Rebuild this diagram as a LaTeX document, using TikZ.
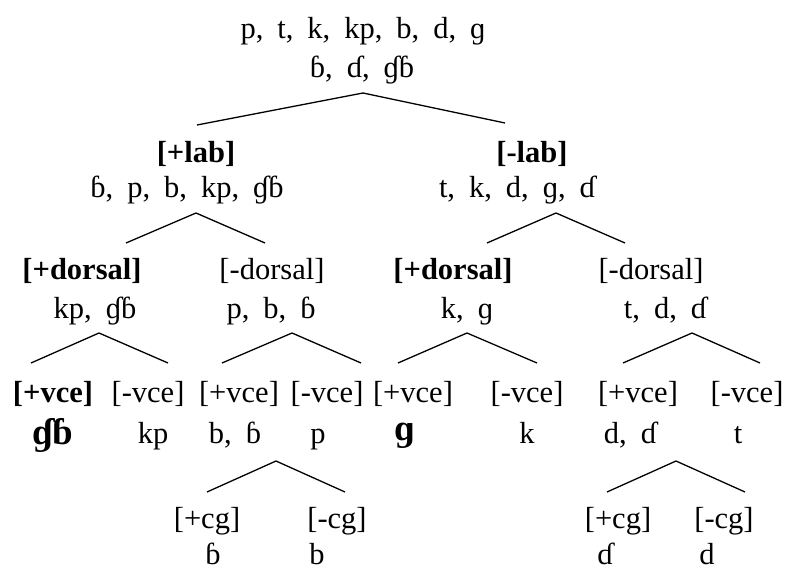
\documentclass[tikz,border=0pt]{standalone}
\usepackage{fontspec}
\setmainfont{Liberation Serif}
\usetikzlibrary{positioning}

\begin{document}
\begin{tikzpicture}[x=1pt, y=-1pt,
		every node/.style={anchor=base, inner sep=0pt, font=\fontsize{30.5}{36}\selectfont},
		feature/.style={},
		boldFeature/.style={font=\fontsize{30.5}{36}\selectfont\bfseries},
		segments/.style={execute at begin node={\spaceskip=14pt plus 2pt\relax}},
		boldSegments/.style={font=\fontsize{37}{42}\selectfont\bfseries},
		branch/.style={line width=1.3pt, line join=miter}
	]
	\useasboundingbox (0,0) rectangle (789,569);

	% Root
	\node[segments] (R0a) at (363,39) {p, t, k, kp, b, d, ɡ};
	\node[segments] (R0b) at (362,78) {ɓ, ɗ, ɠɓ};
	\coordinate (R0top) at (363,93);
	\coordinate (R0l) at (197,125);
	\coordinate (R0r) at (505,123);
	\draw[branch] (R0l) -- (R0top) -- (R0r);

	% Labial branch
	\node[boldFeature] (L1) at (196,163) {[+lab]};
	\node[segments] (L1s) at (187,198) {ɓ, p, b, kp, ɠɓ};
	\coordinate (L1top) at (196,213);
	\coordinate (L1l) at (126,243);
	\coordinate (L1r) at (265,243);
	\draw[branch] (L1l) -- (L1top) -- (L1r);

	\node[boldFeature] (LA) at (82,279) {[+dorsal]};
	\node[segments] (LAs) at (95,318) {kp, ɠɓ};
	\coordinate (LAtop) at (99,333);
	\coordinate (LAl) at (31,363);
	\coordinate (LAr) at (168,363);
	\draw[branch] (LAl) -- (LAtop) -- (LAr);

	\node[feature] (LB) at (272,279) {[-dorsal]};
	\node[segments] (LBs) at (271,318) {p, b, ɓ};
	\coordinate (LBtop) at (292,333);
	\coordinate (LBl) at (222,363);
	\coordinate (LBr) at (361,363);
	\draw[branch] (LBl) -- (LBtop) -- (LBr);

	\node[boldFeature] (LA1) at (53,402) {[+vce]};
	\node[boldSegments] (LA1s) at (53,444) {ɠɓ};
	\node[feature] (LA2) at (148,402) {[-vce]};
	\node[segments] (LA2s) at (153,443) {kp};
	\node[feature] (LB1) at (239,402) {[+vce]};
	\node[segments] (LB1s) at (235,443) {b, ɓ};
	\node[feature] (LB2) at (327,402) {[-vce]};
	\node[segments] (LB2s) at (318,443) {p};
	\coordinate (LB1top) at (276,461);
	\coordinate (LB1l) at (207,492);
	\coordinate (LB1r) at (345,492);
	\draw[branch] (LB1l) -- (LB1top) -- (LB1r);

	\node[feature] (LB1a) at (207,528) {[+cg]};
	\node[segments] (LB1as) at (213,564) {ɓ};
	\node[feature] (LB1b) at (337,528) {[-cg]};
	\node[segments] (LB1bs) at (317,564) {b};

	% Non-labial branch
	\node[boldFeature] (R1) at (532,163) {[-lab]};
	\node[segments] (R1s) at (517,198) {t, k, d, ɡ, ɗ};
	\coordinate (R1top) at (556,213);
	\coordinate (R1l) at (487,243);
	\coordinate (R1r) at (625,243);
	\draw[branch] (R1l) -- (R1top) -- (R1r);

	\node[boldFeature] (RA) at (453,279) {[+dorsal]};
	\node[segments] (RAs) at (467,318) {k, ɡ};
	\coordinate (RAtop) at (467,333);
	\coordinate (RAl) at (398,363);
	\coordinate (RAr) at (537,363);
	\draw[branch] (RAl) -- (RAtop) -- (RAr);

	\node[feature] (RB) at (651,279) {[-dorsal]};
	\node[segments] (RBs) at (665,318) {t, d, ɗ};
	\coordinate (RBtop) at (692,333);
	\coordinate (RBl) at (623,363);
	\coordinate (RBr) at (760,363);
	\draw[branch] (RBl) -- (RBtop) -- (RBr);

	\node[feature] (RA1) at (413,402) {[+vce]};
	\node[boldSegments] (RA1s) at (405,440) {ɡ};
	\node[feature] (RA2) at (527,402) {[-vce]};
	\node[segments] (RA2s) at (527,443) {k};
	\node[feature] (RB1) at (638,402) {[+vce]};
	\node[segments] (RB1s) at (630,443) {d, ɗ};
	\node[feature] (RB2) at (747,402) {[-vce]};
	\node[segments] (RB2s) at (738,443) {t};
	\coordinate (RB1top) at (676,461);
	\coordinate (RB1l) at (607,492);
	\coordinate (RB1r) at (745,492);
	\draw[branch] (RB1l) -- (RB1top) -- (RB1r);

	\node[feature] (RB1a) at (618,528) {[+cg]};
	\node[segments] (RB1as) at (605,564) {ɗ};
	\node[feature] (RB1b) at (724,528) {[-cg]};
	\node[segments] (RB1bs) at (707,564) {d};
\end{tikzpicture}
\end{document}
